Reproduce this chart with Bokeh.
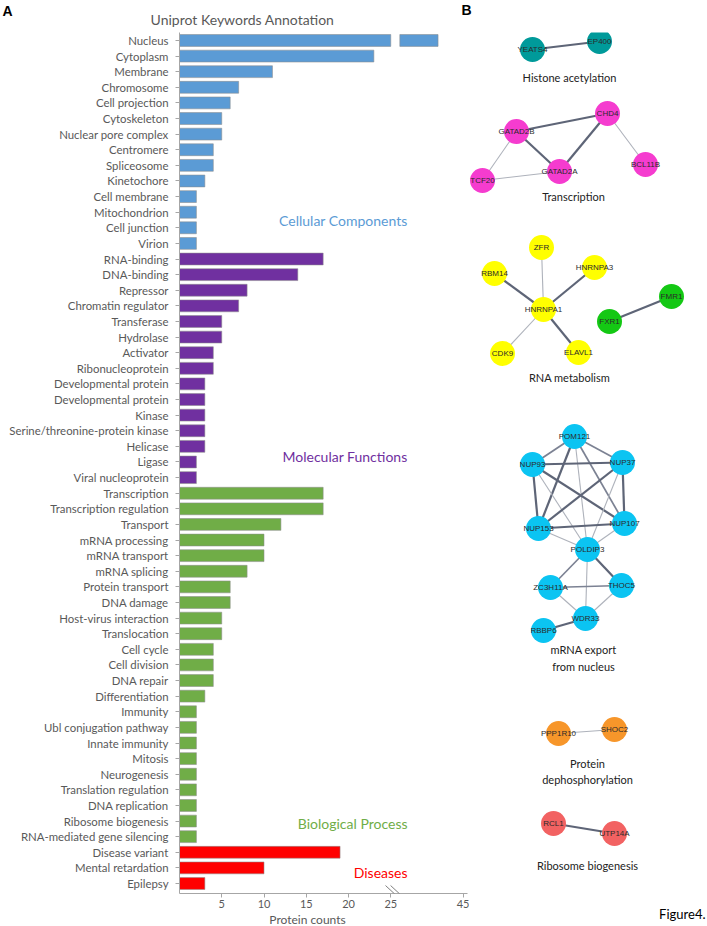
from bokeh.plotting import figure
from bokeh.models import Range1d, FixedTicker, Label, Arrow, ColumnDataSource
from bokeh.layouts import row, column
from bokeh.embed import file_html
from bokeh.resources import INLINE
from bokeh.core.properties import value

# ---------------- Panel A data ----------------
cc_labels = ["Nucleus", "Cytoplasm", "Membrane", "Chromosome", "Cell projection",
             "Cytoskeleton", "Nuclear pore complex", "Centromere", "Spliceosome",
             "Kinetochore", "Cell membrane", "Mitochondrion", "Cell junction", "Virion"]
cc_counts = [38, 23, 11, 7, 6, 5, 5, 4, 4, 3, 2, 2, 2, 2]

mf_labels = ["RNA-binding", "DNA-binding", "Repressor", "Chromatin regulator",
             "Transferase", "Hydrolase", "Activator", "Ribonucleoprotein",
             "Developmental protein", "Developmental protein", "Kinase",
             "Serine/threonine-protein kinase", "Helicase", "Ligase", "Viral nucleoprotein"]
mf_counts = [17, 14, 8, 7, 5, 5, 4, 4, 3, 3, 3, 3, 3, 2, 2]

bp_labels = ["Transcription", "Transcription regulation", "Transport", "mRNA processing",
             "mRNA transport", "mRNA splicing", "Protein transport", "DNA damage",
             "Host-virus interaction", "Translocation", "Cell cycle", "Cell division",
             "DNA repair", "Differentiation", "Immunity", "Ubl conjugation pathway",
             "Innate immunity", "Mitosis", "Neurogenesis", "Translation regulation",
             "DNA replication", "Ribosome biogenesis", "RNA-mediated gene silencing"]
bp_counts = [17, 17, 12, 10, 10, 8, 6, 6, 5, 5, 4, 4, 4, 3, 2, 2, 2, 2, 2, 2, 2, 2, 2]

dis_labels = ["Disease variant", "Mental retardation", "Epilepsy"]
dis_counts = [19, 10, 3]

group_names = ["Cellular Components", "Molecular Functions", "Biological Process", "Diseases"]
group_colors = ["#5B9BD5", "#7030A0", "#70AD47", "#FF0000"]

x_tick_values = [5, 10, 15, 20, 25, 45]

# ---------------- Panel B data ----------------
node_names = ["YEATS4", "EP400",
              "CHD4", "GATAD2B", "GATAD2A", "TCF20", "BCL11B",
              "ZFR", "RBM14", "HNRNPA3", "HNRNPA1", "CDK9", "ELAVL1",
              "FXR1", "FMR1",
              "POM121", "NUP93", "NUP37", "NUP153", "NUP107", "POLDIP3",
              "ZC3H11A", "THOC5", "WDR33", "RBBP6",
              "PPP1R10", "SHOC2",
              "RCL1", "UTP14A"]
node_x = [532, 599,
          607, 516, 559, 482, 645,
          541, 494, 594, 543, 502, 578,
          609, 671,
          574, 532, 622, 538, 624, 587,
          550, 621, 585, 543,
          558, 614,
          553, 614]
node_y = [49, 41,
          113, 131, 171, 180, 164,
          247, 273, 267, 309, 353, 352,
          321, 296,
          436, 464, 462, 528, 523, 549,
          587, 585, 618, 630,
          733, 729,
          823, 833]
node_colors = ["#009A9A"] * 2 + ["#F53CCF"] * 5 + ["#FFFF00"] * 6 + ["#14C814"] * 2 + \
              ["#0BC4F2"] * 10 + ["#F7962A"] * 2 + ["#F26262"] * 2

edge_src = ["YEATS4",
            "GATAD2B", "GATAD2B", "GATAD2A", "CHD4", "GATAD2B", "TCF20",
            "HNRNPA1", "HNRNPA1", "HNRNPA1", "HNRNPA1", "HNRNPA1", "FXR1",
            "POM121", "POM121", "POM121", "POM121", "POM121",
            "NUP93", "NUP93", "NUP93", "NUP93",
            "NUP37", "NUP37", "NUP37",
            "NUP153", "NUP153", "NUP107",
            "POLDIP3", "POLDIP3", "POLDIP3", "ZC3H11A", "ZC3H11A", "THOC5", "WDR33",
            "PPP1R10", "RCL1"]
edge_dst = ["EP400",
            "CHD4", "GATAD2A", "CHD4", "BCL11B", "TCF20", "GATAD2A",
            "ZFR", "RBM14", "HNRNPA3", "CDK9", "ELAVL1", "FMR1",
            "NUP93", "NUP37", "NUP153", "NUP107", "POLDIP3",
            "NUP37", "NUP153", "NUP107", "POLDIP3",
            "NUP153", "NUP107", "POLDIP3",
            "NUP107", "POLDIP3", "POLDIP3",
            "ZC3H11A", "THOC5", "WDR33", "THOC5", "WDR33", "WDR33", "RBBP6",
            "SHOC2", "UTP14A"]
edge_weight = [3,
               3, 3, 3, 1, 1, 1,
               1, 3, 3, 1, 3, 3,
               2, 2, 3, 2, 1,
               3, 3, 3, 1,
               3, 3, 1,
               3, 1, 1,
               2, 3, 1, 2, 1, 1, 3,
               1, 3]

cluster_texts = ["Histone acetylation", "Transcription", "RNA metabolism", "mRNA export",
                 "from nucleus", "Protein", "dephosphorylation", "Ribosome biogenesis"]
cluster_x = [569, 573, 569, 583, 583, 587, 587, 587]
cluster_y = [77, 196, 377, 649, 666, 763, 779, 865]

# ---------------- axis break helper ----------------
BREAK_AT = 25.0
UPPER_SCALE = 0.4305
BREAK_GAP = 1.07


def disp(v):
    return v if v <= BREAK_AT else BREAK_AT + (v - BREAK_AT) * UPPER_SCALE


FONT = "Lato"
TEXT_GRAY = "#595959"
W, H = 707, 926
TOP_H, BOT_H, A_W = 32, 14, 469
X_END = 34.08


def txt(p, x, y, t, size, color, align="center", style="normal", font=FONT):
    p.add_layout(Label(x=x, y=y, text=t, text_font=font, text_font_size=size,
                       text_color=color, text_align=align, text_baseline="middle",
                       text_font_style=style))


def blank(width, height, xr, yr, **kw):
    opts = dict(min_border=0)
    opts.update(kw)
    f = figure(width=width, height=height, x_range=xr, y_range=yr, output_backend="svg",
               toolbar_location=None, x_axis_location=None, y_axis_location=None, **opts)
    f.grid.visible = False
    f.outline_line_color = None
    return f


labels, counts, colors = [], [], []
for lab, cnt, col in [(cc_labels, cc_counts, group_colors[0]), (mf_labels, mf_counts, group_colors[1]),
                      (bp_labels, bp_counts, group_colors[2]), (dis_labels, dis_counts, group_colors[3])]:
    labels += lab
    counts += cnt
    colors += [col] * len(lab)
n = len(labels)
idx = list(range(n))

main_right = [min(disp(c), BREAK_AT) for c in counts]
src = ColumnDataSource(dict(y=idx, right=main_right, color=colors))
brk = [i for i in idx if counts[i] > BREAK_AT]
src2 = ColumnDataSource(dict(y=brk, left=[BREAK_AT + BREAK_GAP for i in brk],
                             right=[disp(counts[i]) for i in brk], color=[colors[i] for i in brk]))

# ---------------- top strip (panel letters + title) ----------------
pT = blank(W, TOP_H, Range1d(0, W), Range1d(TOP_H, 0))
txt(pT, 2, 10, "A", "14px", "#000000", align="left", style="bold", font="Liberation Sans")
txt(pT, 461, 9, "B", "14px", "#000000", align="left", style="bold", font="Liberation Sans")
txt(pT, 242, 19, "Uniprot Keywords Annotation", "14px", TEXT_GRAY)

# ---------------- panel A bar chart ----------------
pA = figure(width=A_W, height=H - TOP_H - BOT_H, x_range=Range1d(0, X_END), y_range=Range1d(54.64, -0.51),
            output_backend="svg", toolbar_location=None,
            min_border_left=179, min_border_right=2, min_border_top=0, min_border_bottom=19)
pA.hbar(y="y", left=0, right="right", height=0.76, fill_color="color", line_color="#8C8C8C",
        line_alpha=0.55, line_width=1, source=src)
pA.hbar(y="y", left="left", right="right", height=0.76, fill_color="color", line_color="#8C8C8C",
        line_alpha=0.55, line_width=1, source=src2)
pA.grid.visible = False
pA.outline_line_color = None

yax = pA.yaxis[0]
yax.ticker = FixedTicker(ticks=idx)
yax.major_label_overrides = {i: labels[i] for i in idx}
yax.major_label_text_font = FONT
yax.major_label_text_font_size = "11.4px"
yax.major_label_text_color = TEXT_GRAY
yax.major_tick_out = 4
yax.major_tick_in = 0
yax.minor_tick_out = 0
yax.minor_tick_in = 0
yax.major_label_standoff = 7
yax.axis_line_color = "#A6A6A6"
yax.major_tick_line_color = "#A6A6A6"

xticks = [disp(v) for v in x_tick_values]
xax = pA.xaxis[0]
xax.ticker = FixedTicker(ticks=xticks)
xax.major_label_overrides = {disp(v): str(v) for v in x_tick_values}
xax.major_label_text_font = FONT
xax.major_label_text_font_size = "11px"
xax.major_label_text_color = TEXT_GRAY
xax.major_tick_out = 4
xax.major_tick_in = 0
xax.minor_tick_out = 0
xax.minor_tick_in = 0
xax.major_label_standoff = 2
xax.axis_line_color = "#A6A6A6"
xax.major_tick_line_color = "#A6A6A6"

# axis break marks
for dx in (0.0, 0.6):
    pA.add_layout(Arrow(end=None, x_start=24.38 + dx, y_start=54.13, x_end=25.92 + dx, y_end=54.9,
                        line_color="#7F7F7F", line_width=1))

txt(pA, 26.98, 11.53, group_names[0], "14px", group_colors[0], align="right")
txt(pA, 26.98, 26.65, group_names[1], "14px", group_colors[1], align="right")
txt(pA, 26.98, 50.16, group_names[2], "14px", group_colors[2], align="right")
txt(pA, 26.98, 53.3, group_names[3], "14px", group_colors[3], align="right")

# strip under panel A with the axis title (same borders as panel A, so same x mapping)
pAb = blank(A_W, BOT_H, Range1d(0, X_END), Range1d(H, H - BOT_H),
            min_border_left=179, min_border_right=2, min_border_top=0, min_border_bottom=0)
txt(pAb, 15.15, 919, "Protein counts", "12px", TEXT_GRAY)

# ---------------- panel B network ----------------
pB = blank(W - A_W, H - TOP_H, Range1d(A_W, W), Range1d(H, TOP_H))

pos = {nm: (x, y) for nm, x, y in zip(node_names, node_x, node_y)}
w_color = {1: "#AEB2BB", 2: "#7C8293", 3: "#5E6577"}
w_width = {1: 1.1, 2: 1.7, 3: 2.2}
esrc = ColumnDataSource(dict(
    x0=[pos[a][0] for a in edge_src], y0=[pos[a][1] for a in edge_src],
    x1=[pos[b][0] for b in edge_dst], y1=[pos[b][1] for b in edge_dst],
    c=[w_color[w] for w in edge_weight], lw=[w_width[w] for w in edge_weight]))
pB.segment(x0="x0", y0="y0", x1="x1", y1="y1", line_color="c", line_width="lw", source=esrc)

nsrc = ColumnDataSource(dict(x=node_x, y=node_y, name=node_names, color=node_colors))
pB.scatter(x="x", y="y", size=25, marker="circle", fill_color="color", line_color=None, source=nsrc)
pB.text(x="x", y="y", text="name", text_font=value("Liberation Sans"), text_font_size="8px",
        text_color="#2A2A2A", text_align="center", text_baseline="middle", source=nsrc)

csrc = ColumnDataSource(dict(x=cluster_x, y=cluster_y, t=cluster_texts))
pB.text(x="x", y="y", text="t", text_font=value(FONT), text_font_size="11px",
        text_color="#222222", text_align="center", text_baseline="middle", source=csrc)

txt(pB, 705, 913, "Figure4.", "13px", "#000000", align="right")

layout = column(pT, row(column(pA, pAb), pB))
open("out.html", "w").write(file_html(layout, INLINE))
